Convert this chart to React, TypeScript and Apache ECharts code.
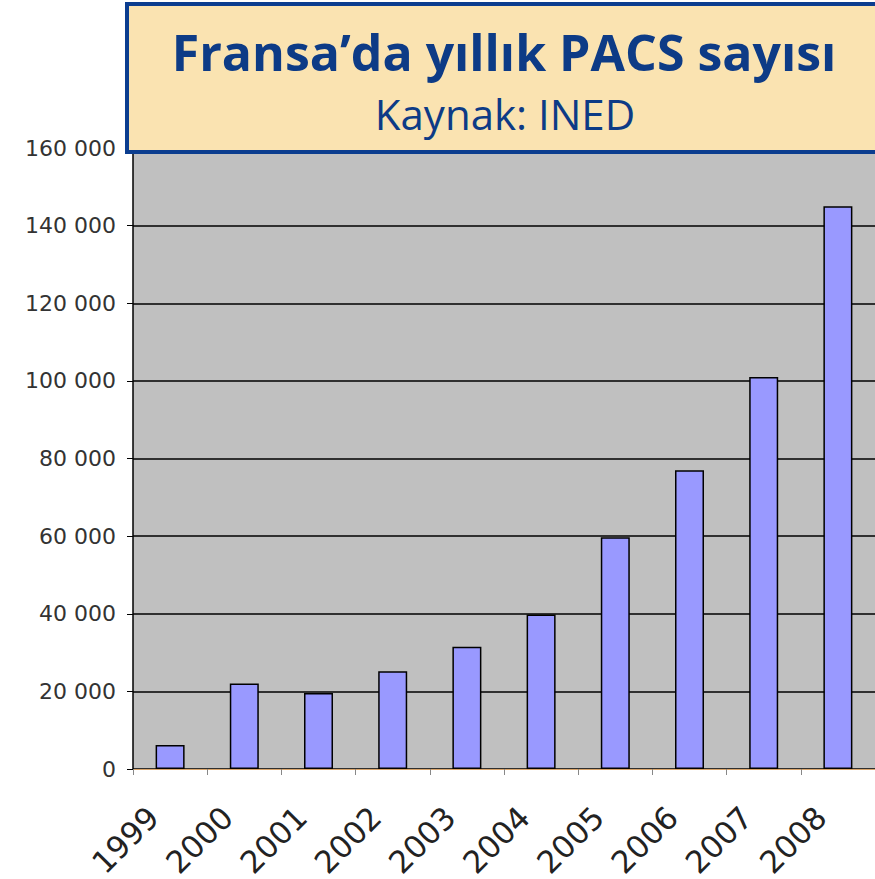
import React, { useEffect, useRef } from "react";
import * as echarts from "echarts";

const years = ["1999", "2000", "2001", "2002", "2003", "2004", "2005", "2006", "2007", "2008"];
const pacsCounts = [6200, 22000, 19600, 25200, 31500, 39800, 59700, 77000, 101000, 145000];
const yTicks = [0, 20000, 40000, 60000, 80000, 100000, 120000, 140000, 160000];
const titleText = "Fransa’da yıllık PACS sayısı";
const subtitleText = "Kaynak: INED";

export default function App() {
  const ref = useRef<HTMLDivElement>(null);
  useEffect(() => {
    if (!ref.current) return;
    const chart = echarts.init(ref.current, null, { renderer: "svg" });
    chart.setOption({
      animation: false,
      backgroundColor: "#ffffff",
      grid: {
        left: 133,
        right: 0,
        top: 148,
        bottom: 110,
        show: true,
        backgroundColor: "#c0c0c0",
        borderWidth: 0,
        outerBoundsMode: "none",
        containLabel: false,
      },
      xAxis: {
        type: "category",
        data: years,
        axisLine: { lineStyle: { color: "#d9a46a", width: 1 } },
        axisTick: { show: true, length: 6, lineStyle: { color: "#888" } },
        axisLabel: {
          rotate: 45,
          margin: 26,
          padding: [0, 24, 0, 0],
          fontFamily: "DejaVu Sans",
          fontSize: 31,
          color: "#222",
        },
      },
      yAxis: {
        type: "value",
        min: yTicks[0],
        max: yTicks[yTicks.length - 1],
        interval: 20000,
        axisLine: { show: true, lineStyle: { color: "#000", width: 1.5 } },
        axisTick: { show: true, length: 6, lineStyle: { color: "#000" } },
        axisLabel: {
          margin: 17,
          fontFamily: "DejaVu Sans",
          fontSize: 22,
          color: "#333",
          formatter: (v: number) => (v === 0 ? "0" : String(v).replace(/\B(?=(\d{3})+(?!\d))/g, " ")),
        },
        splitLine: { lineStyle: { color: "#000", width: 1.5 } },
      },
      series: [
        {
          type: "bar",
          data: pacsCounts,
          barWidth: 29,
          itemStyle: { color: "#9999ff", borderColor: "#000", borderWidth: 1.5 },
        },
      ],
      graphic: [
        {
          type: "rect",
          shape: { x: 127, y: 4, width: 760, height: 148 },
          style: { fill: "#fae3b1", stroke: "#0b3d8f", lineWidth: 4 },
          z: 100,
        },
        {
          type: "text",
          x: 504,
          y: 52,
          style: {
            text: titleText,
            fill: "#0d3b86",
            font: "bold 50px 'Open Sans'",
            align: "center",
            verticalAlign: "middle",
          },
          z: 101,
        },
        {
          type: "text",
          x: 505,
          y: 113,
          style: {
            text: subtitleText,
            fill: "#0d3b86",
            font: "42px 'Open Sans'",
            align: "center",
            verticalAlign: "middle",
          },
          z: 101,
        },
      ],
    });
    return () => chart.dispose();
  }, []);
  return <div ref={ref} style={{ position: "fixed", left: 0, top: 0, width: 875, height: 879 }} />;
}
